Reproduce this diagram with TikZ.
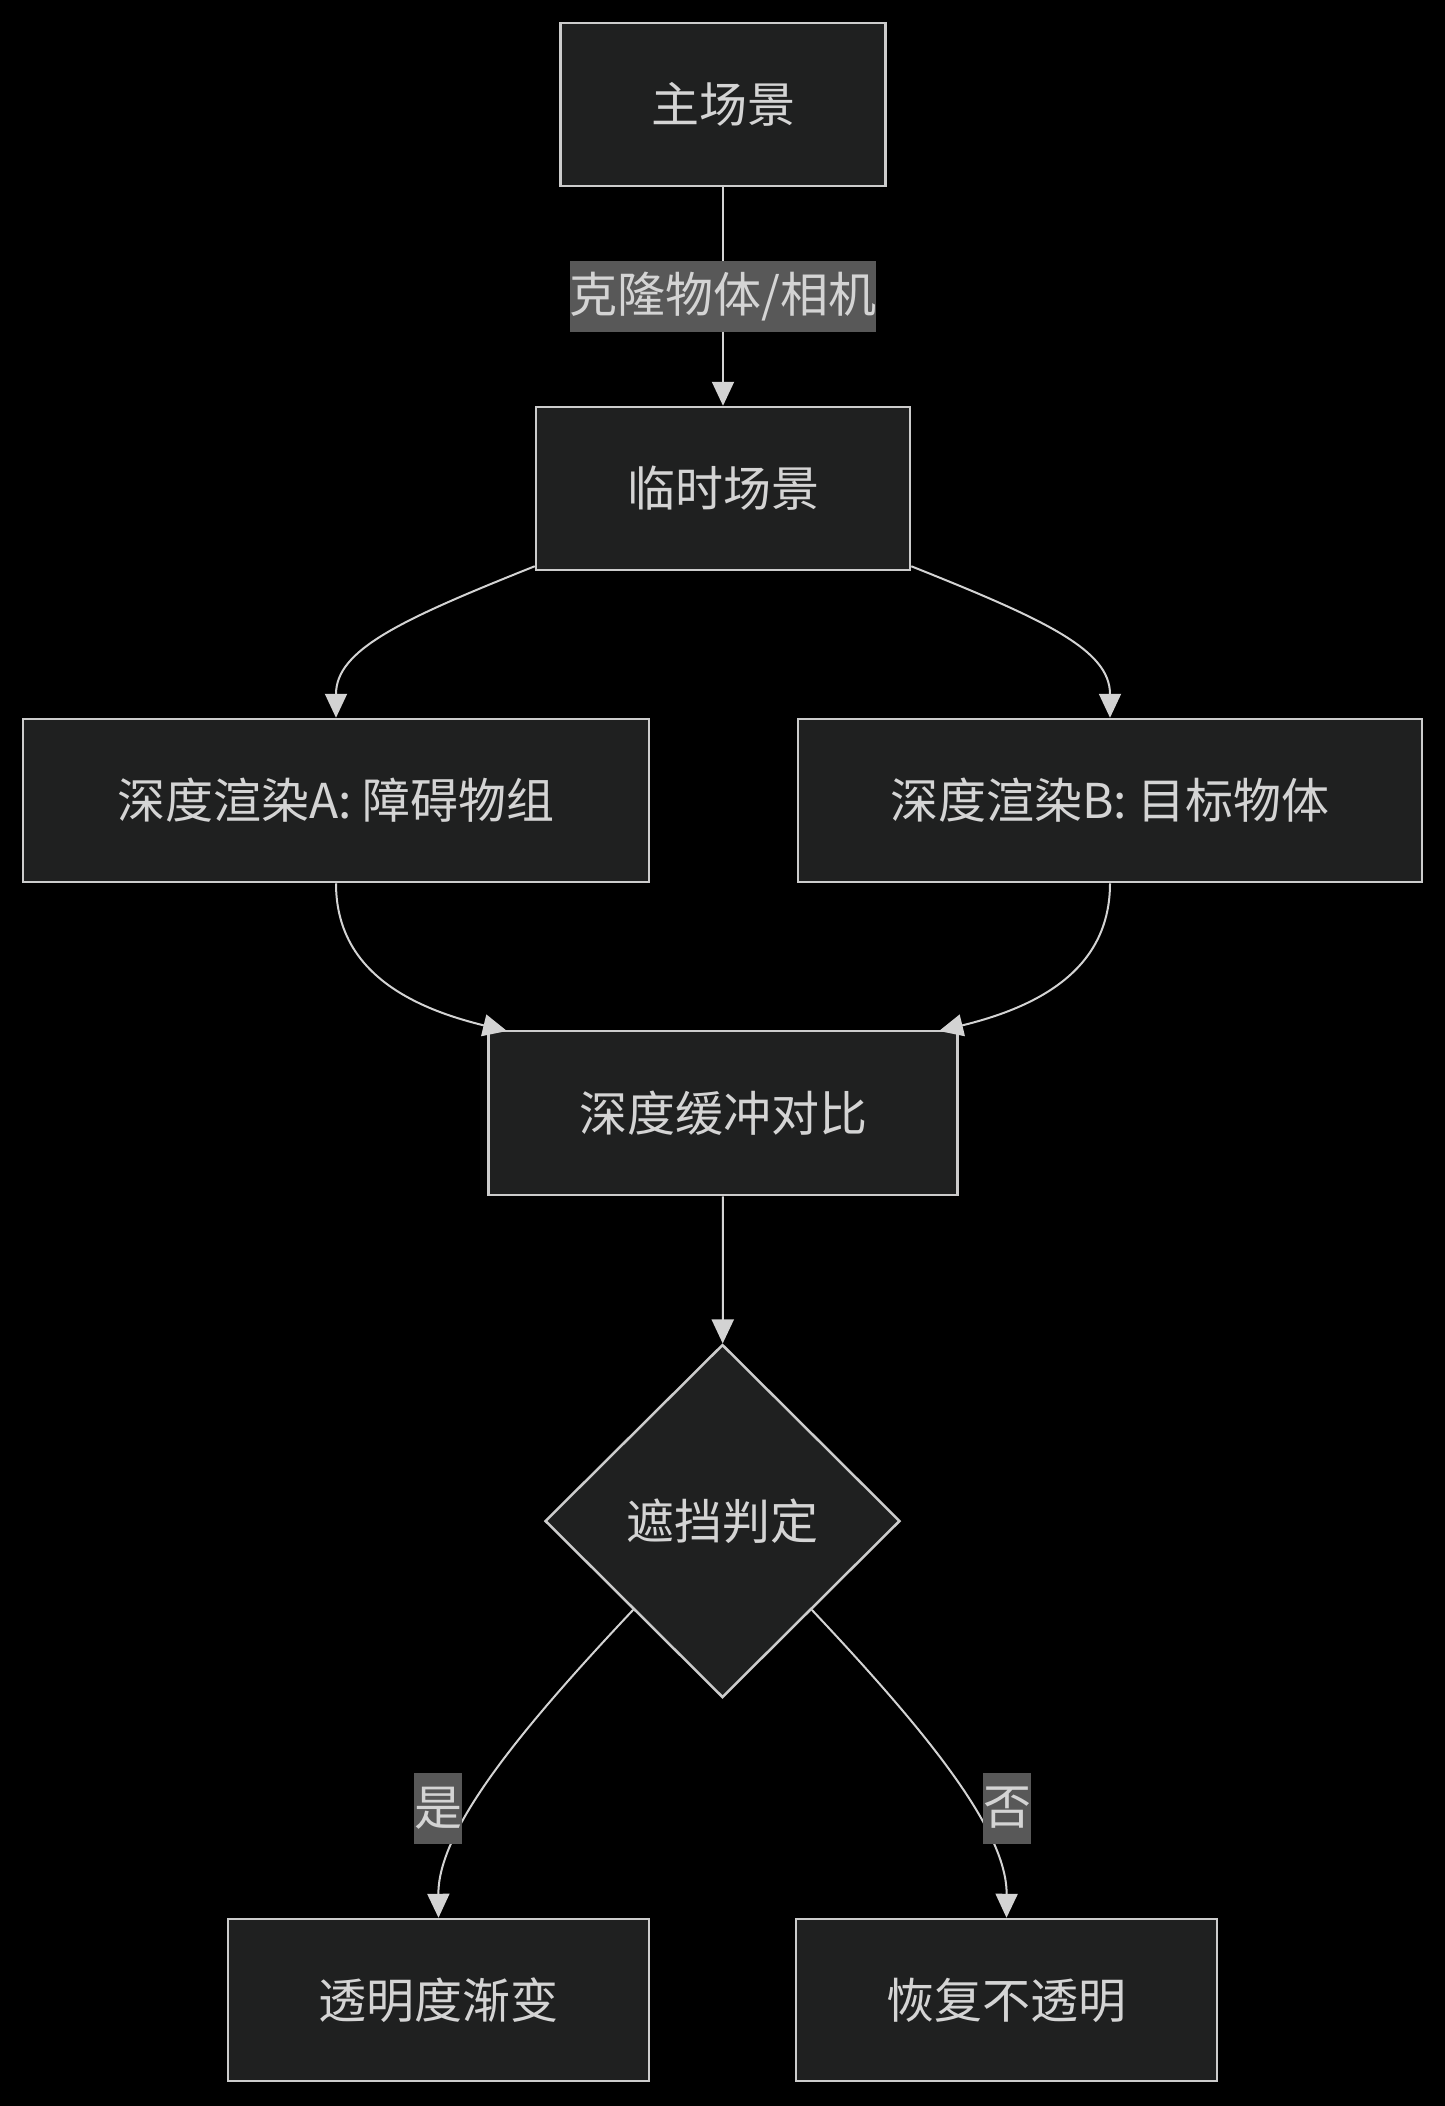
\documentclass[tikz,border=0pt]{standalone}
\usepackage{fontspec}
\setmainfont{Noto Sans CJK SC}
\usetikzlibrary{shapes.geometric,arrows.meta}
\definecolor{nodefill}{HTML}{1F2020}
\definecolor{nodeline}{HTML}{CCCCCC}
\definecolor{txt}{HTML}{D4D4D4}
\definecolor{lblbg}{HTML}{585858}
\definecolor{edgecol}{HTML}{D3D3D3}
\begin{document}
\begin{tikzpicture}[x=1pt,y=-1pt,
  box/.style={draw=nodeline, fill=nodefill, line width=2.5pt, text=txt,
    font=\fontsize{48}{58}\selectfont, inner sep=0pt, minimum height=163pt},
  dia/.style={diamond, draw=nodeline, fill=nodefill, line width=2.5pt, text=txt,
    font=\fontsize{48}{58}\selectfont, inner sep=0pt,
    minimum width=355pt, minimum height=353pt},
  lbl/.style={fill=lblbg, text=txt, font=\fontsize{48}{58}\selectfont,
    inner sep=0pt, minimum height=71pt},
  conn/.style={draw=edgecol, line width=2pt, -{Triangle[length=24pt,width=22pt]}}
]
\path[use as bounding box, fill=black] (0,0) rectangle (1445,2106);

\node[box, minimum width=325pt] (main) at (723,104.5) {主场景};
\node[box, minimum width=374pt] (temp) at (723,488.5) {临时场景};
\node[box, minimum width=626pt] (A) at (336,800.5) {深度渲染A: 障碍物组};
\node[box, minimum width=624pt] (B) at (1110,800.5) {深度渲染B: 目标物体};
\node[box, minimum width=469pt, minimum height=164pt] (cmp) at (723,1113) {深度缓冲对比};
\node[dia] (dec) at (722.5,1521) {遮挡判定};
\node[box, minimum width=421pt, minimum height=162pt] (yes) at (438.5,2000) {透明度渐变};
\node[box, minimum width=421pt, minimum height=162pt] (no) at (1006.5,2000) {恢复不透明};

\draw[conn] (main) -- node[lbl] (l1) {克隆物体/相机} (temp);
\draw[conn] ([yshift=5pt]temp.south west) .. controls (400,620) and (336,650) .. (A.north);
\draw[conn] ([yshift=5pt]temp.south east) .. controls (1046,620) and (1110,650) .. (B.north);
\draw[conn] (A.south) .. controls (336,965) and (400,1005) .. (507,1031);
\draw[conn] (B.south) .. controls (1110,965) and (1046,1005) .. (939,1031);
\draw[conn] (cmp) -- (dec);
\draw[conn] (dec.south west) .. controls (520,1730) and (438,1830) .. (yes.north);
\draw[conn] (dec.south east) .. controls (925,1730) and (1007,1830) .. (no.north);
\node[lbl] (l2) at (438,1808) {是};
\node[lbl] (l3) at (1007,1808) {否};
\end{tikzpicture}
\end{document}
